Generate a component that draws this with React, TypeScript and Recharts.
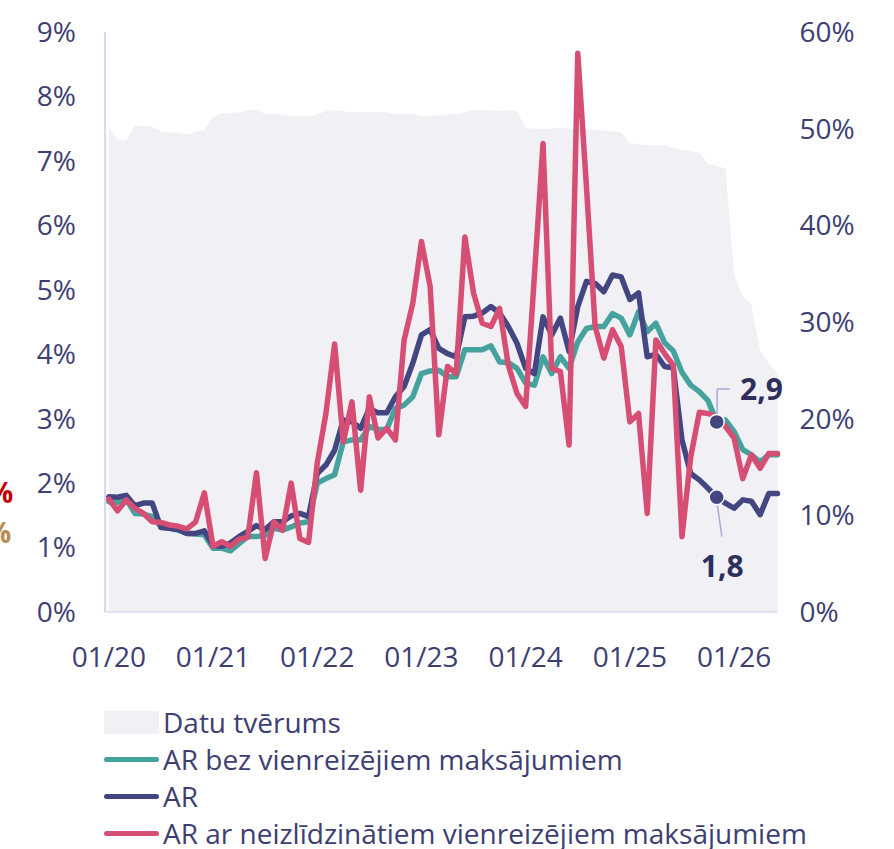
import {
  ComposedChart,
  Area,
  Line,
  XAxis,
  YAxis,
  ReferenceDot,
  ReferenceLine,
} from "recharts";

// monthly, 01/2020 .. 06/2026
const COVERAGE = [
  50.2, 48.8, 48.8, 50.3, 50.3, 50.2, 49.7, 49.6, 49.6, 49.4, 49.7, 49.8,
  51.2, 51.6, 51.6, 51.7, 51.9, 52.0, 51.5, 51.5, 51.5, 51.3, 51.3, 51.3,
  51.5, 51.8, 51.9, 51.8, 51.7, 51.7, 51.7, 51.7, 51.7, 51.5, 51.5, 51.5,
  51.3, 51.3, 51.4, 51.5, 51.5, 51.7, 51.9, 51.9, 51.9, 51.8, 51.9, 51.8,
  50.1, 50.0, 50.0, 50.0, 50.1, 50.0, 50.0, 49.9, 49.9, 49.8, 49.7, 49.6,
  48.5, 48.4, 48.3, 48.3, 48.3, 48.0, 47.8, 47.7, 47.5, 46.4, 46.1, 45.9,
  35.0, 32.6, 31.8, 27.0, 25.7, 24.6,
];

const AR = [
  1.79, 1.78, 1.81, 1.65, 1.69, 1.69, 1.31, 1.30, 1.28, 1.22, 1.22, 1.26,
  1.03, 1.02, 1.07, 1.17, 1.25, 1.34, 1.28, 1.40, 1.40, 1.49, 1.53, 1.48,
  2.15, 2.28, 2.51, 2.98, 2.95, 2.85, 3.16, 3.09, 3.09, 3.34, 3.50, 3.86,
  4.30, 4.38, 4.09, 4.01, 3.96, 4.58, 4.59, 4.64, 4.74, 4.64, 4.43, 4.17,
  3.78, 3.70, 4.58, 4.30, 4.56, 4.04, 4.74, 5.13, 5.10, 4.97, 5.23, 5.20,
  4.85, 4.95, 3.96, 4.00, 3.81, 3.79, 2.67, 2.15, 2.05, 1.92, 1.78, 1.69,
  1.61, 1.74, 1.72, 1.51, 1.84, 1.84,
];

const AR_EXCL = [
  1.71, 1.70, 1.75, 1.53, 1.52, 1.48, 1.33, 1.30, 1.27, 1.22, 1.21, 1.20,
  0.99, 0.99, 0.95, 1.06, 1.17, 1.17, 1.19, 1.30, 1.27, 1.32, 1.38, 1.40,
  2.00, 2.07, 2.13, 2.64, 2.67, 2.67, 2.88, 2.83, 2.83, 3.16, 3.21, 3.34,
  3.70, 3.74, 3.75, 3.65, 3.65, 4.07, 4.07, 4.07, 4.13, 3.88, 3.87, 3.78,
  3.55, 3.52, 3.96, 3.70, 3.96, 3.78, 4.19, 4.40, 4.43, 4.43, 4.63, 4.56,
  4.30, 4.66, 4.35, 4.48, 4.18, 4.05, 3.72, 3.52, 3.42, 3.28, 2.95, 2.98,
  2.80, 2.52, 2.44, 2.33, 2.44, 2.44,
];

const AR_RAW = [
  1.75, 1.57, 1.74, 1.61, 1.53, 1.40, 1.39, 1.35, 1.33, 1.29, 1.40, 1.85,
  1.02, 1.09, 1.02, 1.13, 1.16, 2.16, 0.83, 1.40, 1.27, 2.00, 1.14, 1.08,
  2.31, 3.08, 4.16, 2.64, 3.26, 1.89, 3.34, 2.70, 2.85, 2.67, 4.22, 4.79,
  5.75, 5.05, 2.75, 3.81, 3.70, 5.82, 4.95, 4.48, 4.43, 4.71, 3.83, 3.39,
  3.19, 5.20, 7.27, 3.78, 3.73, 2.59, 8.67, 6.60, 4.43, 3.94, 4.38, 4.12,
  2.95, 3.08, 1.53, 4.22, 4.01, 3.83, 1.17, 2.40, 3.10, 3.08, 3.03, 2.88,
  2.70, 2.07, 2.44, 2.23, 2.46, 2.46,
];

const X_TICKS = [0, 12, 24, 36, 48, 60, 72];
const X_LABELS = ["01/20", "01/21", "01/22", "01/23", "01/24", "01/25", "01/26"];
const LEFT_TICKS = [0, 1, 2, 3, 4, 5, 6, 7, 8, 9];
const RIGHT_TICKS = [0, 10, 20, 30, 40, 50, 60];

const MARK_IDX = 70;

const rows = AR.map((v, i) => ({
  i,
  ar: v,
  excl: AR_EXCL[i],
  raw: AR_RAW[i],
  cov: COVERAGE[i],
}));

const TEXT = "#3d3e72";
const NAVY = "#434680";
const TEAL = "#46a29c";
const PINK = "#d64e74";
const AREA = "#f0f0f5";
const LEADER = "#a9aad6";
const FONT = '"Open Sans", sans-serif';

const tickStyle = { fontSize: 28, fill: TEXT, fontFamily: FONT };

function LabelText(text: string, anchor: "start" | "middle") {
  return (p: any) => (
    <text
      x={p.cx}
      y={p.cy}
      dy="0.35em"
      textAnchor={anchor}
      fontSize={30}
      fontWeight={700}
      fontFamily={FONT}
      fill="#2e2f5c"
    >
      {text}
    </text>
  );
}

const LEGEND = [
  { label: "Datu tvērums", color: AREA, box: true },
  { label: "AR bez vienreizējiem maksājumiem", color: TEAL, box: false },
  { label: "AR", color: NAVY, box: false },
  { label: "AR ar neizlīdzinātiem vienreizējiem maksājumiem", color: PINK, box: false },
];

export default function App() {
  return (
    <div
      style={{
        position: "absolute",
        left: 0,
        top: 0,
        width: 894,
        height: 849,
        background: "#fff",
        fontFamily: FONT,
        overflow: "hidden",
      }}
    >
      <ComposedChart
        width={894}
        height={690}
        data={rows}
        margin={{ top: 32, right: 0, bottom: 0, left: 0 }}
      >
        <XAxis
          dataKey="i"
          type="number"
          domain={[-0.44, 77]}
          ticks={X_TICKS}
          interval={0}
          tickFormatter={(v) => X_LABELS[X_TICKS.indexOf(v)]}
          tick={tickStyle}
          tickLine={false}
          tickSize={0}
          tickMargin={35}
          height={78}
          axisLine={{ stroke: "#dcdcee", strokeWidth: 1.5 }}
        />
        <YAxis
          yAxisId="left"
          domain={[0, 9]}
          ticks={LEFT_TICKS}
          interval={0}
          tickFormatter={(v) => `${v}%`}
          tick={tickStyle}
          tickLine={false}
          tickSize={0}
          tickMargin={29}
          width={105}
          axisLine={{ stroke: "#d8d8ec", strokeWidth: 2 }}
        />
        <YAxis
          yAxisId="right"
          orientation="right"
          domain={[0, 60]}
          ticks={RIGHT_TICKS}
          interval={0}
          tickFormatter={(v) => `${v}%`}
          tick={tickStyle}
          tickLine={false}
          tickSize={0}
          tickMargin={22}
          width={116.5}
          axisLine={false}
        />
        <Area
          yAxisId="right"
          dataKey="cov"
          type="linear"
          fill={AREA}
          fillOpacity={1}
          stroke="none"
          isAnimationActive={false}
        />
        <Line
          yAxisId="left"
          dataKey="excl"
          type="linear"
          stroke={TEAL}
          strokeWidth={5.5}
          strokeLinejoin="round"
          strokeLinecap="round"
          dot={false}
          isAnimationActive={false}
        />
        <Line
          yAxisId="left"
          dataKey="ar"
          type="linear"
          stroke={NAVY}
          strokeWidth={5.5}
          strokeLinejoin="round"
          strokeLinecap="round"
          dot={false}
          isAnimationActive={false}
        />
        <Line
          yAxisId="left"
          dataKey="raw"
          type="linear"
          stroke={PINK}
          strokeWidth={5.5}
          strokeLinejoin="round"
          strokeLinecap="round"
          dot={false}
          isAnimationActive={false}
        />
        <ReferenceLine
          yAxisId="left"
          segment={[
            { x: MARK_IDX + 0.05, y: AR_EXCL[MARK_IDX] + 0.1 },
            { x: MARK_IDX + 0.05, y: 3.46 },
          ]}
          stroke={LEADER}
          strokeWidth={1.5}
        />
        <ReferenceLine
          yAxisId="left"
          segment={[
            { x: MARK_IDX + 0.05, y: 3.46 },
            { x: 71.5, y: 3.46 },
          ]}
          stroke={LEADER}
          strokeWidth={1.5}
        />
        <ReferenceLine
          yAxisId="left"
          segment={[
            { x: MARK_IDX + 0.05, y: AR[MARK_IDX] - 0.1 },
            { x: 70.6, y: 1.17 },
          ]}
          stroke={LEADER}
          strokeWidth={1.5}
        />
        <ReferenceDot
          yAxisId="left"
          x={MARK_IDX}
          y={AR_EXCL[MARK_IDX]}
          r={7.5}
          fill={NAVY}
          stroke="#fff"
          strokeWidth={1.5}
        />
        <ReferenceDot
          yAxisId="left"
          x={MARK_IDX}
          y={AR[MARK_IDX]}
          r={7.5}
          fill={NAVY}
          stroke="#fff"
          strokeWidth={1.5}
        />
        <ReferenceDot
          yAxisId="left"
          x={72.68}
          y={3.445}
          r={1}
          shape={LabelText("2,9", "start")}
        />
        <ReferenceDot
          yAxisId="left"
          x={70.64}
          y={0.71}
          r={1}
          shape={LabelText("1,8", "middle")}
        />
      </ComposedChart>

      <span
        style={{
          position: "absolute",
          left: -12,
          top: 473,
          fontSize: 28,
          fontWeight: 700,
          color: "#c00000",
          lineHeight: "38px",
        }}
      >
        %
      </span>
      <span
        style={{
          position: "absolute",
          left: -14,
          top: 513,
          fontSize: 28,
          fontWeight: 700,
          color: "#b58d55",
          lineHeight: "38px",
        }}
      >
        %
      </span>

      <div
        style={{
          position: "absolute",
          left: 104,
          top: 704,
          fontSize: 28,
          lineHeight: "37px",
          color: TEXT,
          whiteSpace: "nowrap",
        }}
      >
        {LEGEND.map((it) => (
          <div key={it.label} style={{ display: "flex", alignItems: "center", height: 37 }}>
            <div
              style={{
                width: 55,
                height: it.box ? 23 : 5,
                background: it.color,
                borderRadius: it.box ? 0 : 3,
                marginRight: 4,
              }}
            />
            <span>{it.label}</span>
          </div>
        ))}
      </div>
    </div>
  );
}
